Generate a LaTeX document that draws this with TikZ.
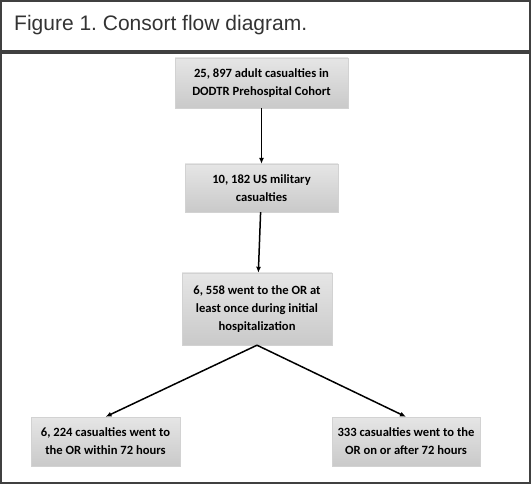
\documentclass[tikz,border=0pt]{standalone}
\usepackage{fontspec}
\setmainfont{Carlito}
\newfontfamily\titlefont{Liberation Sans}
\usetikzlibrary{arrows.meta}
\definecolor{framegray}{HTML}{404040}
\definecolor{titlegray}{HTML}{333333}
\frenchspacing

\begin{document}
\begin{tikzpicture}[
    x=1pt, y=-1pt,
    frame/.style={draw=framegray, line width=1.5pt},
    box/.style={rectangle, draw=gray!35, top color=gray!20, bottom color=gray!42,
        align=center, inner sep=0pt, font=\bfseries\fontsize{12.6}{18}\selectfont},
    link/.style={-{Latex[length=6pt,width=5pt]}, line width=1.5pt}
]

\useasboundingbox (0,0) rectangle (531,484);

% frames
\draw[frame] (1,1) rectangle (530,51);
\draw[frame] (1,53) rectangle (530,483);
\node[anchor=west, inner sep=0pt, text=titlegray, font=\titlefont\fontsize{21}{24}\selectfont] (title) at (14,25) {Figure 1. Consort flow diagram.};

% boxes
\node[box, minimum width=173, minimum height=50] (cohort) at (261.5,83) {25, 897 adult casualties in\\DODTR Prehospital Cohort};
\node[box, minimum width=153, minimum height=48] (military) at (261.5,188) {10, 182 US military\\casualties};
\node[box, minimum width=150, minimum height=72] (surgery) at (257,309) {6, 558 went to the OR at\\least once during initial\\hospitalization};
\node[box, minimum width=149, minimum height=49] (early) at (105.5,441.5) {6, 224 casualties went to\\the OR within 72 hours};
\node[box, minimum width=148, minimum height=49] (late) at (406,441.5) {333 casualties went to the\\OR on or after 72 hours};

% arrows
\draw[link] (cohort) -- (military);
\draw[link] (military) -- (surgery);
\draw[link] (surgery.south) -- (early.north);
\draw[link] (surgery.south) -- (late.north);

\end{tikzpicture}
\end{document}
